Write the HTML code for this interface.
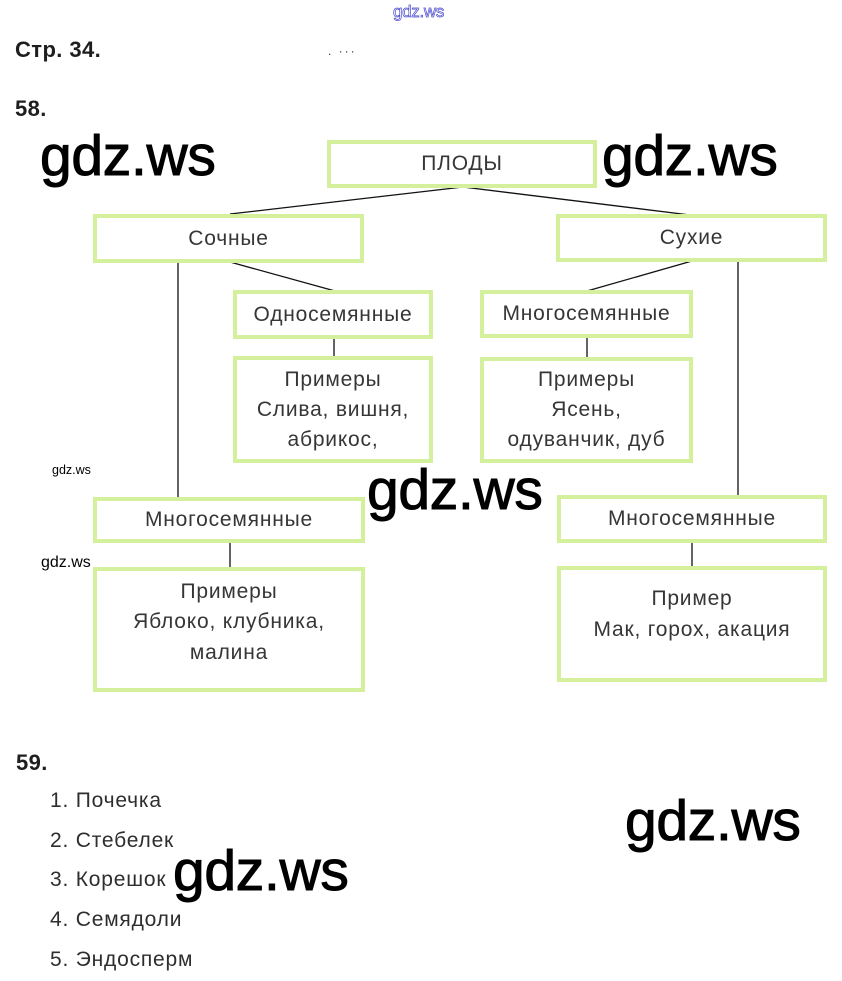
<!DOCTYPE html>
<html>
<head>
<meta charset="utf-8">
<style>
  html, body { margin:0; padding:0; background:#fff; }
  body { width:842px; height:981px; position:relative; overflow:hidden;
         font-family:"Liberation Sans", Arial, sans-serif; }
  .box { position:absolute; box-sizing:border-box; border:4px solid #d4f09c;
         background:#fff; display:flex; flex-direction:column; align-items:center;
         justify-content:center; text-align:center; color:#363636;
         font-size:21px; letter-spacing:0.8px; line-height:30px; }
  .h { position:absolute; font-weight:bold; font-size:22px; letter-spacing:0.4px; color:#1e1e1e; }
  .li { position:absolute; left:50px; font-size:21px; letter-spacing:0.8px; color:#2e2e2e; line-height:24px; }
  .wm { position:absolute; font-size:57px; color:#000; line-height:1; -webkit-text-stroke:1px #000; letter-spacing:-0.3px; }
  .sw { position:absolute; color:#000; line-height:1; }
  svg { position:absolute; left:0; top:0; }
</style>
</head>
<body>

<div style="position:absolute;left:393px;top:3px;font-size:17px;line-height:1;color:#fff;-webkit-text-stroke:0.7px #4a4ad0;letter-spacing:-0.3px;">gdz.ws</div>

<div class="h" style="left:15px;top:37px;">Стр. 34.</div>
<div style="position:absolute;left:328px;top:44px;font-size:12px;color:#333;letter-spacing:2px;">. ···</div>
<div class="h" style="left:15px;top:96px;">58.</div>

<svg width="842" height="981">
  <g stroke="#111" stroke-width="1.3" fill="none">
    <line x1="463" y1="187" x2="230" y2="214"/>
    <line x1="463" y1="187" x2="690" y2="215"/>
    <line x1="178" y1="262" x2="178" y2="498"/>
    <line x1="230" y1="262" x2="335" y2="291"/>
    <line x1="334" y1="338" x2="334" y2="357"/>
    <line x1="692" y1="261" x2="587" y2="291"/>
    <line x1="587" y1="337" x2="587" y2="358"/>
    <line x1="738" y1="261" x2="738" y2="496"/>
    <line x1="230" y1="542" x2="230" y2="568"/>
    <line x1="692" y1="542" x2="692" y2="567"/>
  </g>
</svg>

<div class="box" style="left:327px;top:140px;width:270px;height:48px;">ПЛОДЫ</div>
<div class="box" style="left:93px;top:214px;width:271px;height:49px;">Сочные</div>
<div class="box" style="left:556px;top:214px;width:271px;height:48px;">Сухие</div>
<div class="box" style="left:233px;top:290px;width:200px;height:49px;">Односемянные</div>
<div class="box" style="left:480px;top:290px;width:213px;height:48px;">Многосемянные</div>
<div class="box" style="left:233px;top:356px;width:200px;height:107px;"><div>Примеры</div><div>Слива, вишня,</div><div>абрикос,</div></div>
<div class="box" style="left:480px;top:357px;width:213px;height:106px;"><div>Примеры</div><div>Ясень,</div><div>одуванчик, дуб</div></div>
<div class="box" style="left:93px;top:497px;width:272px;height:46px;">Многосемянные</div>
<div class="box" style="left:557px;top:495px;width:270px;height:48px;">Многосемянные</div>
<div class="box" style="left:93px;top:567px;width:272px;height:125px;padding-bottom:14px;line-height:30.5px;"><div>Примеры</div><div>Яблоко, клубника,</div><div>малина</div></div>
<div class="box" style="left:557px;top:566px;width:270px;height:116px;padding-bottom:20px;line-height:31px;"><div>Пример</div><div>Мак, горох, акация</div></div>

<div class="h" style="left:16px;top:750px;">59.</div>
<div class="li" style="top:789px;">1. Почечка</div>
<div class="li" style="top:829px;">2. Стебелек</div>
<div class="li" style="top:868px;">3. Корешок</div>
<div class="li" style="top:908px;">4. Семядоли</div>
<div class="li" style="top:948px;">5. Эндосперм</div>

<div class="wm" style="left:40px;top:128px;">gdz.ws</div>
<div class="wm" style="left:602px;top:128px;">gdz.ws</div>
<div class="wm" style="left:367px;top:462px;">gdz.ws</div>
<div class="wm" style="left:625px;top:793px;">gdz.ws</div>
<div class="wm" style="left:173px;top:843px;">gdz.ws</div>

<div class="sw" style="left:52px;top:464px;font-size:12.5px;">gdz.ws</div>
<div class="sw" style="left:41px;top:555px;font-size:16px;">gdz.ws</div>

</body>
</html>
